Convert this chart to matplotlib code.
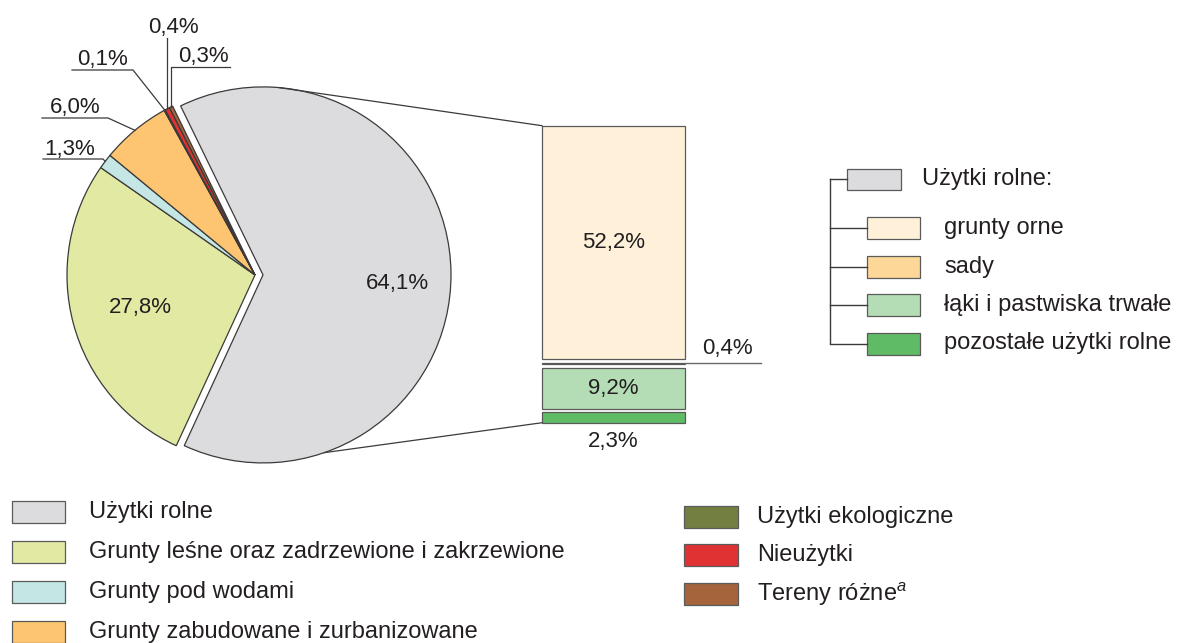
import numpy as np
import matplotlib
matplotlib.use("Agg")
import matplotlib.pyplot as plt
from matplotlib.patches import Rectangle

plt.rcParams['font.family'] = ['Liberation Sans', 'DejaVu Sans']
plt.rcParams['mathtext.fontset'] = 'custom'
plt.rcParams['mathtext.rm'] = 'Liberation Sans'
plt.rcParams['mathtext.it'] = 'Liberation Sans:italic'

# data
pie_labels = ['Użytki rolne', 'Grunty leśne oraz zadrzewione i zakrzewione', 'Grunty pod wodami',
              'Grunty zabudowane i zurbanizowane', 'Użytki ekologiczne', 'Nieużytki', 'Tereny różne$^a$']
pie_values = [64.1, 27.8, 1.3, 6.0, 0.1, 0.4, 0.3]
pie_colors = ['#dcdcde', '#e2e9a2', '#c4e7e6', '#fdc572', '#737f41', '#e03232', '#a5643c']

bar_labels = ['grunty orne', 'sady', 'łąki i pastwiska trwałe', 'pozostałe użytki rolne']
bar_values = [52.2, 0.4, 9.2, 2.3]
bar_colors = ['#fff0da', '#fdd797', '#b4dcb5', '#5fbb66']

W, H = 1178, 643
TXT = '#231f20'
LINE = '#3a3a3a'
FS = 16     # numbers
FL = 17     # legend text


def py(y):
    # pixel row (from top) -> data y
    return H - y


fig = plt.figure(figsize=(W / 100, H / 100), dpi=100)
ax = fig.add_axes([0, 0, 1, 1])

# pie
cx, cy, R = 255, py(275), 188
explode = [8] + [0] * (len(pie_values) - 1)
wedges, _ = ax.pie(pie_values, colors=pie_colors, startangle=116, counterclock=False,
                   center=(cx, cy), radius=R, explode=explode,
                   wedgeprops=dict(edgecolor=LINE, linewidth=0.9))
ax.set_xlim(0, W)
ax.set_ylim(0, H)
ax.set_aspect('auto')
ax.axis('off')


def edge_point(w, frac=0.5):
    a = np.deg2rad(w.theta1 + (w.theta2 - w.theta1) * frac)
    return w.center[0] + w.r * np.cos(a), w.center[1] + w.r * np.sin(a)


ax.text(397, py(283), '64,1%', ha='center', va='center', fontsize=FS, color=TXT)
ax.text(140, py(307), '27,8%', ha='center', va='center', fontsize=FS, color=TXT)

# small slice labels with leader lines
# blue 1,3%
p = edge_point(wedges[2])
ax.plot([p[0], 103, 43], [p[1], py(159), py(159)], color=LINE, lw=0.9)
ax.text(70, py(155), '1,3%', ha='center', va='baseline', fontsize=FS, color=TXT)
# orange 6,0%
p = edge_point(wedges[3])
ax.plot([p[0], 108, 42], [p[1], py(118), py(118)], color=LINE, lw=0.9)
ax.text(75, py(113), '6,0%', ha='center', va='baseline', fontsize=FS, color=TXT)
# olive 0,1%
p = edge_point(wedges[4])
ax.plot([p[0], 133, 72], [p[1], py(70), py(70)], color=LINE, lw=0.9)
ax.text(103, py(65), '0,1%', ha='center', va='baseline', fontsize=FS, color=TXT)
# red 0,4%
p = edge_point(wedges[5])
ax.plot([p[0], p[0]], [p[1], py(38)], color=LINE, lw=0.9)
ax.text(173, py(33), '0,4%', ha='center', va='baseline', fontsize=FS, color=TXT)
# brown 0,3%
p = edge_point(wedges[6])
ax.plot([p[0], p[0], 230], [p[1], py(67), py(67)], color=LINE, lw=0.9)
ax.text(203, py(62), '0,3%', ha='center', va='baseline', fontsize=FS, color=TXT)

# breakdown bar
scale = 4.47   # px per percent
gap = 3.5
bx, bw = 613.5, 143
top = py(125.7)
bottoms = []
y = top
for v in bar_values:
    h = v * scale
    bottoms.append(y - h)
    y = y - h - gap
heights = [v * scale for v in bar_values]
ax.bar(bx, heights, width=bw, bottom=bottoms, color=bar_colors, edgecolor='#5a5a5a', linewidth=0.9)

ax.text(bx, bottoms[0] + heights[0] / 2, '52,2%', ha='center', va='center', fontsize=FS, color=TXT)
ax.text(bx, bottoms[2] + heights[2] / 2, '9,2%', ha='center', va='center', fontsize=FS, color=TXT)
ax.text(bx, py(442), '2,3%', ha='center', va='center', fontsize=FS, color=TXT)
sy = bottoms[1] + heights[1] / 2
ax.plot([bx + bw / 2, 761], [sy, sy], color='#6a6a6a', lw=1.0)
ax.text(727, sy + 4, '0,4%', ha='center', va='bottom', fontsize=FS, color=TXT)

# connecting lines from the grey slice to the bar
g = wedges[0]
a1, a2 = np.deg2rad(85), np.deg2rad(-71)
p1 = (g.center[0] + g.r * np.cos(a1), g.center[1] + g.r * np.sin(a1))
p2 = (g.center[0] + g.r * np.cos(a2), g.center[1] + g.r * np.sin(a2))
ax.plot([p1[0], bx - bw / 2], [p1[1], top], color=LINE, lw=0.9)
ax.plot([p2[0], bx - bw / 2], [p2[1], bottoms[3]], color=LINE, lw=0.9)

# tree legend on the right
ax.plot([830, 830], [py(179), py(343)], color=LINE, lw=1.0)
ax.plot([830, 847], [py(179), py(179)], color=LINE, lw=1.0)
ax.add_patch(Rectangle((847, py(190)), 54, 21, facecolor=pie_colors[0], edgecolor='#5a5a5a', lw=0.9))
ax.text(922, py(179), 'Użytki rolne:', ha='left', va='center', fontsize=FL, color=TXT)
for i, (lab, col) in enumerate(zip(bar_labels, bar_colors)):
    yc = py(228 + i * 38.5)
    ax.plot([830, 867], [yc, yc], color=LINE, lw=1.0)
    ax.add_patch(Rectangle((867, yc - 11), 53, 22, facecolor=col, edgecolor='#5a5a5a', lw=0.9))
    ax.text(944, yc, lab, ha='left', va='center', fontsize=FL, color=TXT)

# bottom legend
left_rows = [512, 552, 592, 632]
right_rows = [517, 555, 594]
for i in range(4):
    yc = py(left_rows[i])
    ax.add_patch(Rectangle((12, yc - 11), 53, 22, facecolor=pie_colors[i], edgecolor='#5a5a5a', lw=0.9))
    ax.text(89, yc, pie_labels[i], ha='left', va='center', fontsize=FL, color=TXT)
for j in range(3):
    yc = py(right_rows[j])
    ax.add_patch(Rectangle((684, yc - 11), 54, 22, facecolor=pie_colors[4 + j], edgecolor='#5a5a5a', lw=0.9))
    ax.text(757, yc, pie_labels[4 + j], ha='left', va='center', fontsize=FL, color=TXT)

fig.savefig('out.png', dpi=100)
